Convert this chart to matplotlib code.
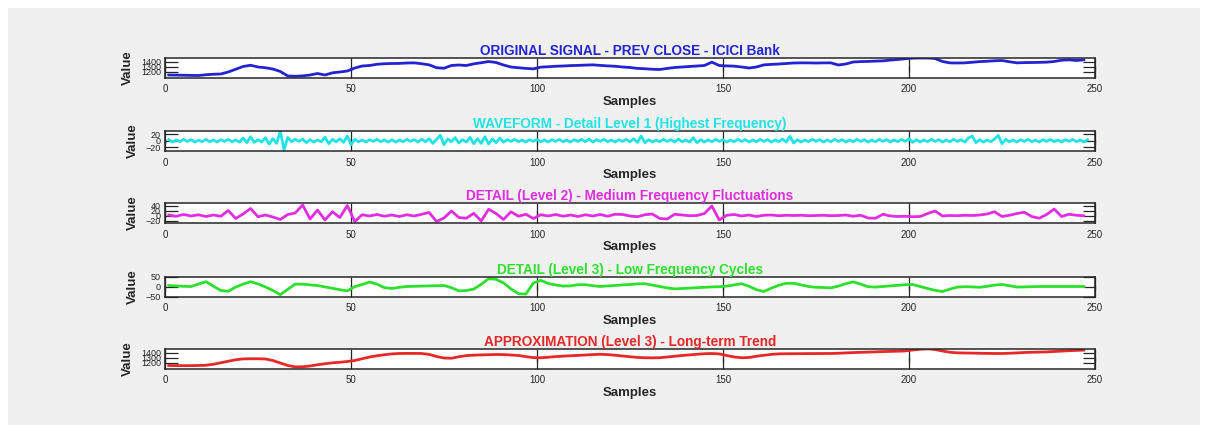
import numpy as np
import matplotlib
matplotlib.use('Agg')
import matplotlib.pyplot as plt
from matplotlib.patches import Rectangle

plt.rcParams['font.family'] = ['Liberation Sans', 'DejaVu Sans']

# ---------------- data ----------------
samples_even = np.arange(1, 249, 2)   # sample index for series read every 2 samples
samples_all = np.arange(1, 249)       # sample index for the level-1 detail

original_close = [
    1130, 1128, 1125, 1122, 1120, 1135, 1145, 1150, 1190, 1245, 1300, 1325, 1290, 1275, 1250, 1200,
    1110, 1105, 1112, 1130, 1160, 1130, 1173, 1190, 1210, 1270, 1310, 1320, 1345, 1355, 1360, 1362,
    1370, 1373, 1355, 1333, 1275, 1265, 1320, 1330, 1320, 1353, 1375, 1400, 1380, 1330, 1290, 1275,
    1262, 1253, 1287, 1295, 1305, 1310, 1318, 1322, 1328, 1333, 1322, 1312, 1305, 1290, 1280, 1262,
    1255, 1245, 1240, 1262, 1280, 1290, 1300, 1310, 1320, 1387, 1320, 1312, 1307, 1290, 1270, 1290,
    1333, 1342, 1350, 1360, 1370, 1373, 1372, 1370, 1372, 1373, 1330, 1350, 1390, 1398, 1402, 1408,
    1413, 1428, 1440, 1455, 1467, 1470, 1470, 1460, 1400, 1372, 1370, 1373, 1385, 1398, 1405, 1415,
    1420, 1395, 1373, 1378, 1380, 1383, 1387, 1400, 1425, 1433, 1420, 1433,
]

detail_level1 = [
    3, -4, 2, -3, 4, -2, 3, -4, 1, -3, 4, -3, 2, -4, 3, -2, 4, -3, 2, -4,
    8, -6, 12, -5, 3, -4, 9, -10, 6, -8, 28, -27, 10, -3, 4, -2, 5, -6, 3, -4,
    2, -3, 11, -9, 4, -3, 6, -5, 14, -12, 4, -3, 2, -4, 3, -2, 4, -3, 2, -4,
    3, -4, 2, -3, 4, -2, 3, -4, 5, -3, 6, -8, 4, 16, -12, 5, -3, 9, -7, 3,
    -4, 10, -9, 6, -8, 12, -10, 5, -6, 8, -4, 3, -2, 4, -3, 2, -4, 3, -2, 4,
    -3, 2, -4, 3, -2, 4, -3, 2, -4, 3, -2, 4, -3, 5, -4, 3, -2, 4, -3, 2,
    -4, 3, -2, 4, -3, 6, -5, 14, -6, 3, -4, 2, -3, 4, -2, 3, -4, 5, -3, 2,
    -4, 9, -6, 3, -4, 2, -3, 4, -2, 3, -4, 2, -3, 4, -2, 3, -4, 2, -3, 4,
    -2, 3, -4, 2, -3, 5, -4, 13, -7, 3, -4, 2, -3, 4, -2, 3, -4, 2, -3, 4,
    -2, 3, -4, 2, -3, 4, -2, 3, -4, 2, -3, 4, -2, 3, -4, 2, -3, 4, -2, 6,
    -5, 3, -4, 2, -3, 4, -2, 3, -4, 2, -3, 4, -2, 3, -4, 8, 14, -6, 3, -4,
    2, -3, 5, 16, -9, 4, -3, 2, -4, 3, -2, 4, -3, 2, -4, 3, -2, 4, -3, 2,
    -4, 3, -2, 4, -3, 2, -4, 3,
]

detail_level2 = [
    2, -3, 4, -2, 3, -4, 2, -3, 20, -12, 6, 28, -5, 2, -6, -16,
    4, 10, 42, -14, 22, -18, 15, -8, 40, -24, 3, -2, 4, -3, 2, -4,
    3, -2, 5, 12, -24, -10, 18, -8, -11, 9, -22, 25, 8, -16, 15, -3,
    5, -12, 3, -2, 4, -3, 2, -4, 3, -2, 4, -3, 5, 4, -2, -5,
    3, 6, -12, -14, 5, 2, -1, 0, 8, 38, -18, 1, 4, -2, 2, -4,
    1, 2, -1, 1, 0, 1, -1, 0, 1, -1, 0, 2, -3, 1, -10, -11,
    5, -2, -4, -3, -5, -4, 8, 18, -2, 0, -1, 1, 0, 2, 6, 15,
    -4, 1, 8, 13, -4, -11, 4, 26, -4, 5, 1, -1,
]

detail_level3 = [
    5, 3, 1, 0, 12, 24, 2, -20, -24, -3, 12, 24, 13, -2, -20, -41,
    -14, 12, 12, 8, 5, -2, -9, -16, -22, -1, 10, 22, 12, -6, -10, -4,
    0, 1, 2, 3, 4, 5, -6, -22, -20, -13, 11, 39, 36, 18, -12, -36,
    -38, 17, 31, 15, 8, 2, 3, 9, 9, 4, 0, 3, 5, 8, 10, 13,
    14, 7, 0, -7, -12, -10, -8, -6, -4, -2, -1, 2, 8, 14, 1, -16,
    -25, -8, 6, 16, 16, 8, 0, -4, -5, -7, 2, 14, 23, 12, -1, -3,
    0, 3, 6, 9, 10, 0, -10, -19, -25, -13, -3, -1, -2, -4, 1, 7,
    10, 4, -3, -2, -1, 0, 0, 0, 0, 0, 0, 0,
]

approximation_level3 = [
    1140, 1138, 1137, 1138, 1140, 1145, 1165, 1195, 1225, 1255, 1272, 1275, 1275, 1270, 1240, 1190,
    1140, 1113, 1115, 1130, 1155, 1175, 1193, 1205, 1220, 1240, 1275, 1310, 1335, 1355, 1372, 1380,
    1382, 1382, 1380, 1362, 1320, 1290, 1285, 1315, 1338, 1347, 1352, 1356, 1360, 1358, 1350, 1340,
    1318, 1298, 1295, 1305, 1318, 1327, 1335, 1342, 1350, 1358, 1365, 1358, 1345, 1330, 1315, 1302,
    1295, 1293, 1296, 1310, 1325, 1340, 1352, 1365, 1375, 1380, 1372, 1340, 1310, 1295, 1300, 1325,
    1345, 1362, 1373, 1375, 1376, 1377, 1378, 1379, 1380, 1380, 1385, 1392, 1398, 1403, 1408, 1413,
    1418, 1422, 1426, 1432, 1450, 1465, 1473, 1460, 1430, 1405, 1393, 1390, 1388, 1385, 1382, 1380,
    1380, 1385, 1392, 1400, 1405, 1408, 1412, 1420, 1428, 1436, 1442, 1447,
]

titles = [
    'ORIGINAL SIGNAL - PREV CLOSE - ICICI Bank',
    'WAVEFORM - Detail Level 1 (Highest Frequency)',
    'DETAIL (Level 2) - Medium Frequency Fluctuations',
    'DETAIL (Level 3) - Low Frequency Cycles',
    'APPROXIMATION (Level 3) - Long-term Trend',
]
price_ticks = [1200, 1300, 1400]
d1_ticks = [-20, 0, 20]
d2_ticks = [-20, 0, 20, 40]
d3_ticks = [-50, 0, 50]
x_ticks = [0, 50, 100, 150, 200, 250]

# ---------------- figure ----------------
W, H = 1206, 432
fig = plt.figure(figsize=(W / 100, H / 100), dpi=100)
fig.patch.set_facecolor('white')
fig.patches.append(Rectangle((8 / W, 1 - 425 / H), (1200 - 8) / W, (425 - 8) / H,
                             transform=fig.transFigure, facecolor='#f0f0f0',
                             edgecolor='none', zorder=-10))

series = [
    (samples_even, original_close, '#2323d2', (1080, 1480), price_ticks),
    (samples_all, detail_level1, '#22e3e3', (-30, 30), d1_ticks),
    (samples_even, detail_level2, '#e02ee0', (-30, 50), d2_ticks),
    (samples_even, detail_level3, '#2ee02e', (-50, 50), d3_ticks),
    (samples_even, approximation_level3, '#e62828', (1080, 1480), price_ticks),
]
tops_px = [57.5, 130.7, 203, 276.5, 348.5]
left_px, right_px, h_px = 165, 1095, 20
axcol = '#262626'

for (xs, ys, col, ylim, yt), top, title in zip(series, tops_px, titles):
    ax = fig.add_axes([left_px / W, 1 - (top + h_px) / H, (right_px - left_px) / W, h_px / H])
    ax.set_facecolor('white')
    ax.plot(xs, ys, color=col, lw=2.0, solid_joinstyle='round')
    ax.set_xlim(0, 250)
    ax.set_ylim(*ylim)
    ax.set_xticks(x_ticks)
    ax.set_yticks(yt)
    for s in ax.spines.values():
        s.set_color(axcol)
        s.set_linewidth(1.1)
    ax.tick_params(direction='in', length=9, width=0.9, top=True, right=True, colors=axcol)
    ax.tick_params(axis='x', labelsize=7, pad=5)
    ax.tick_params(axis='y', labelsize=6.5, pad=3)
    ax.set_title(title, color=col, fontsize=9.8, fontweight='bold', pad=2)
    ax.set_xlabel('Samples', fontsize=9.5, fontweight='bold', color=axcol, labelpad=1)
    ax.set_ylabel('Value', fontsize=9.5, fontweight='bold', color=axcol, labelpad=5)

fig.savefig('out.png', dpi=100, facecolor=fig.get_facecolor())
